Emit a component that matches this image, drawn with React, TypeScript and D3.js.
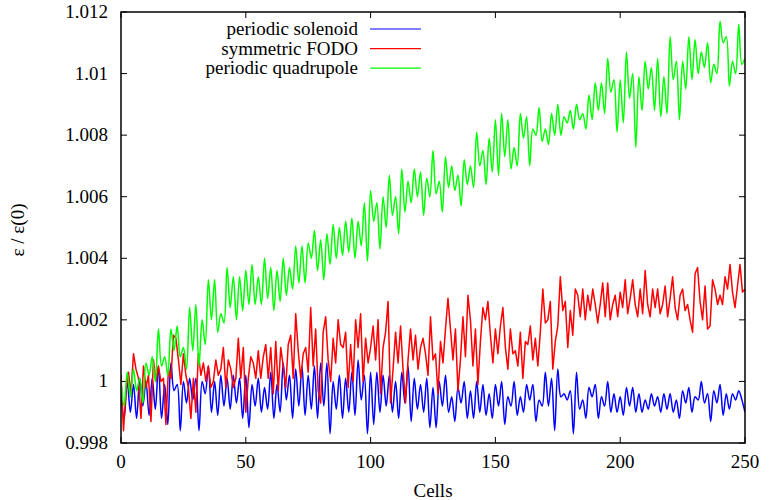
import React from 'react';
import * as d3 from 'd3';

const W = 769;
const H = 500;

const xTicks = [0, 50, 100, 150, 200, 250];
const xTickLabels = ['0', '50', '100', '150', '200', '250'];
const yTicks = [0.998, 1.0, 1.002, 1.004, 1.006, 1.008, 1.01, 1.012];
const yTickLabels = ['0.998', '1', '1.002', '1.004', '1.006', '1.008', '1.01', '1.012'];

const seriesNames = ['periodic solenoid', 'symmetric FODO', 'periodic quadrupole'];
const seriesColors = ['#0000ff', '#ff0000', '#00ff00'];

// periodic solenoid: samples every 1.25 cells (alternating maxima / minima)
const solenoidStep = 1.25;
const solenoid = [
  0.9996, 0.9988, 1.0000, 0.9990, 0.9999, 0.9988, 1.0001, 0.9992, 1.0000, 0.9989, 1.0001, 0.9991, 1.0005, 0.9988, 0.9999, 0.9986, 1.0006, 0.9997, 0.9999, 0.9984,
  1.0000, 0.9993, 1.0001, 0.9994, 1.0001, 0.9984, 1.0000, 0.9996, 1.0005, 0.9990, 1.0000, 0.9989, 1.0002, 0.9992, 1.0001, 0.9991, 1.0002, 0.9993, 1.0001, 0.9988,
  1.0002, 0.9985, 0.9999, 0.9992, 1.0001, 0.9990, 0.9998, 0.9991, 1.0003, 0.9988, 0.9999, 0.9990, 1.0006, 0.9994, 1.0002, 0.9988, 1.0004, 0.9992, 1.0005, 0.9989,
  1.0002, 0.9991, 1.0005, 0.9988, 1.0006, 0.9992, 1.0006, 0.9983, 1.0000, 0.9991, 1.0002, 0.9988, 1.0001, 0.9990, 1.0003, 0.9989, 1.0007, 0.9994, 1.0002, 0.9983,
  1.0003, 0.9986, 1.0003, 0.9990, 1.0002, 0.9992, 1.0002, 0.9990, 1.0000, 0.9988, 1.0003, 0.9993, 1.0005, 0.9987, 1.0001, 0.9991, 0.9999, 0.9990, 1.0001, 0.9985,
  0.9998, 0.9985, 1.0000, 0.9992, 1.0002, 0.9990, 0.9995, 0.9987, 0.9998, 0.9993, 1.0000, 0.9988, 0.9997, 0.9988, 1.0000, 0.9990, 0.9999, 0.9989, 0.9996, 0.9988,
  0.9999, 0.9992, 1.0000, 0.9986, 0.9995, 0.9992, 1.0000, 0.9989, 0.9995, 0.9990, 0.9999, 0.9994, 0.9999, 0.9987, 0.9994, 0.9992, 1.0003, 0.9992, 1.0001, 0.9984,
  1.0004, 0.9995, 0.9996, 0.9994, 0.9997, 0.9983, 1.0003, 0.9991, 0.9994, 0.9988, 0.9998, 0.9995, 0.9999, 0.9988, 0.9995, 0.9992, 1.0000, 0.9990, 0.9996, 0.9990,
  0.9995, 0.9989, 0.9998, 0.9992, 0.9998, 0.9990, 0.9996, 0.9990, 0.9994, 0.9991, 0.9996, 0.9992, 0.9995, 0.9990, 0.9996, 0.9991, 0.9996, 0.9990, 0.9994, 0.9988,
  0.9997, 0.9993, 0.9998, 0.9990, 0.9995, 0.9994, 1.0000, 0.9993, 0.9996, 0.9987, 0.9997, 0.9993, 0.9999, 0.9989, 0.9996, 0.9991, 0.9996, 0.9994, 0.9997, 0.9994,
  0.9990,
];

// symmetric FODO: one sample per cell
const fodoStep = 1;
const fodo = [
  1.0002, 0.9984, 0.9997, 1.0003, 0.9996, 1.0009, 1.0004, 1.0001, 0.9988, 1.0005,
  0.9998, 1.0002, 0.9987, 1.0007, 1.0000, 1.0005, 1.0000, 1.0001, 0.9986, 1.0004,
  1.0001, 1.0015, 1.0014, 1.0007, 0.9999, 1.0009, 1.0002, 0.9998, 0.9988, 1.0001,
  0.9990, 1.0009, 1.0002, 1.0006, 1.0000, 1.0005, 0.9998, 1.0000, 1.0007, 1.0002,
  1.0004, 1.0011, 0.9998, 1.0007, 1.0004, 0.9998, 1.0001, 1.0014, 1.0001, 1.0011,
  0.9990, 1.0001, 1.0008, 1.0006, 1.0001, 1.0010, 1.0001, 1.0008, 1.0012, 1.0001,
  1.0011, 0.9996, 1.0013, 0.9997, 1.0011, 1.0005, 0.9998, 1.0012, 1.0015, 1.0001,
  1.0022, 1.0010, 1.0001, 1.0009, 1.0011, 1.0003, 1.0024, 1.0005, 1.0017, 0.9997,
  0.9993, 1.0016, 1.0021, 1.0007, 1.0000, 1.0014, 1.0006, 1.0020, 1.0012, 1.0011,
  1.0016, 0.9998, 1.0012, 1.0000, 1.0020, 1.0011, 1.0022, 1.0000, 1.0014, 1.0006,
  1.0011, 1.0018, 1.0007, 1.0020, 0.9996, 1.0011, 1.0016, 1.0026, 0.9993, 1.0004,
  1.0016, 1.0006, 1.0018, 1.0004, 0.9993, 1.0007, 1.0017, 1.0007, 1.0015, 1.0004,
  1.0011, 1.0014, 1.0009, 1.0002, 1.0021, 1.0007, 1.0009, 0.9996, 1.0013, 1.0006,
  1.0017, 1.0027, 1.0017, 1.0007, 1.0017, 0.9997, 1.0007, 1.0021, 1.0008, 1.0028,
  1.0020, 1.0005, 1.0017, 0.9999, 1.0013, 1.0024, 1.0020, 1.0026, 1.0015, 1.0006,
  1.0017, 1.0009, 1.0018, 1.0024, 1.0011, 1.0004, 1.0017, 1.0009, 1.0010, 1.0005,
  1.0016, 1.0001, 1.0013, 1.0012, 1.0018, 1.0007, 1.0014, 1.0005, 1.0016, 1.0030,
  1.0019, 1.0020, 1.0026, 1.0004, 1.0013, 1.0018, 1.0034, 1.0023, 1.0026, 1.0011,
  1.0023, 1.0015, 1.0030, 1.0028, 1.0021, 1.0030, 1.0020, 1.0028, 1.0023, 1.0030,
  1.0025, 1.0019, 1.0025, 1.0032, 1.0021, 1.0032, 1.0020, 1.0025, 1.0028, 1.0021,
  1.0029, 1.0024, 1.0033, 1.0022, 1.0027, 1.0033, 1.0025, 1.0021, 1.0030, 1.0022,
  1.0036, 1.0025, 1.0021, 1.0030, 1.0024, 1.0030, 1.0022, 1.0025, 1.0031, 1.0021,
  1.0027, 1.0034, 1.0024, 1.0020, 1.0028, 1.0030, 1.0023, 1.0025, 1.0020, 1.0016,
  1.0035, 1.0037, 1.0026, 1.0020, 1.0031, 1.0017, 1.0018, 1.0033, 1.0030, 1.0025,
  1.0028, 1.0025, 1.0034, 1.0030, 1.0038, 1.0029, 1.0024, 1.0031, 1.0038, 1.0029,
  1.0030,
];

// periodic quadrupole: samples every 1.25 cells (alternating maxima / minima)
const quadStep = 1.25;
const quadrupole = [
  1.0000, 0.9992, 1.0003, 0.9995, 1.0004, 0.9997, 1.0001, 0.9993, 1.0006, 1.0002, 1.0008, 1.0000, 1.0017, 1.0005, 1.0008, 1.0002, 1.0017, 1.0010, 1.0018, 1.0008,
  1.0011, 1.0004, 1.0024, 1.0010, 1.0025, 1.0005, 1.0020, 1.0012, 1.0033, 1.0020, 1.0033, 1.0016, 1.0022, 1.0019, 1.0037, 1.0024, 1.0034, 1.0020, 1.0034, 1.0023,
  1.0036, 1.0025, 1.0038, 1.0025, 1.0034, 1.0025, 1.0040, 1.0027, 1.0037, 1.0023, 1.0036, 1.0026, 1.0040, 1.0028, 1.0037, 1.0030, 1.0044, 1.0032, 1.0044, 1.0032,
  1.0045, 1.0040, 1.0049, 1.0036, 1.0046, 1.0033, 1.0048, 1.0038, 1.0051, 1.0040, 1.0050, 1.0041, 1.0052, 1.0042, 1.0053, 1.0040, 1.0052, 1.0044, 1.0058, 1.0039,
  1.0062, 1.0052, 1.0058, 1.0043, 1.0060, 1.0050, 1.0067, 1.0054, 1.0060, 1.0048, 1.0069, 1.0055, 1.0065, 1.0058, 1.0069, 1.0060, 1.0068, 1.0054, 1.0066, 1.0060,
  1.0075, 1.0061, 1.0065, 1.0055, 1.0073, 1.0063, 1.0070, 1.0062, 1.0067, 1.0057, 1.0072, 1.0064, 1.0070, 1.0063, 1.0081, 1.0070, 1.0075, 1.0064, 1.0079, 1.0068,
  1.0085, 1.0067, 1.0087, 1.0073, 1.0085, 1.0069, 1.0076, 1.0070, 1.0087, 1.0079, 1.0086, 1.0070, 1.0082, 1.0080, 1.0089, 1.0078, 1.0082, 1.0077, 1.0087, 1.0080,
  1.0090, 1.0080, 1.0086, 1.0084, 1.0088, 1.0082, 1.0090, 1.0085, 1.0087, 1.0082, 1.0093, 1.0085, 1.0097, 1.0088, 1.0097, 1.0087, 1.0105, 1.0094, 1.0098, 1.0081,
  1.0098, 1.0084, 1.0107, 1.0092, 1.0100, 1.0076, 1.0099, 1.0088, 1.0104, 1.0095, 1.0102, 1.0088, 1.0105, 1.0086, 1.0099, 1.0087, 1.0112, 1.0098, 1.0104, 1.0085,
  1.0104, 1.0095, 1.0112, 1.0098, 1.0111, 1.0100, 1.0107, 1.0102, 1.0110, 1.0097, 1.0103, 1.0100, 1.0117, 1.0110, 1.0112, 1.0096, 1.0104, 1.0100, 1.0116, 1.0103,
  1.0105,
];

const margin = { left: 121, right: 745, top: 12, bottom: 443 };
const FONT = 'Liberation Serif';
const FS = 19;

export default function App() {
  const x = d3.scaleLinear().domain([0, 250]).range([margin.left, margin.right]);
  const y = d3.scaleLinear().domain([0.998, 1.012]).range([margin.bottom, margin.top]);

  const makePath = (data: number[], step: number, smooth: boolean) => {
    const gen = d3
      .line<number>()
      .x((_, i) => x(i * step))
      .y((v) => y(v))
      .curve(smooth ? d3.curveCatmullRom.alpha(0.5) : d3.curveLinear);
    return gen(data) || '';
  };

  const series = [
    { data: solenoid, step: solenoidStep, smooth: true },
    { data: fodo, step: fodoStep, smooth: false },
    { data: quadrupole, step: quadStep, smooth: true },
  ];

  const tickLen = 6;
  const legendTextX = 358;
  const legendLineX0 = 370;
  const legendLineX1 = 421;
  const legendY0 = 29;
  const legendDy = 19.6;

  return (
    <svg
      width={W}
      height={H}
      viewBox={`0 0 ${W} ${H}`}
      style={{ position: 'absolute', left: 0, top: 0, background: '#fff' }}
    >
      <defs>
        <clipPath id="plotClip">
          <rect
            x={margin.left}
            y={margin.top}
            width={margin.right - margin.left}
            height={margin.bottom - margin.top}
          />
        </clipPath>
      </defs>
      <rect x={0} y={0} width={W} height={H} fill="#fff" />

      {/* ticks (mirrored) */}
      <g stroke="#000" strokeWidth={1}>
        {xTicks.map((t) => (
          <g key={'xt' + t}>
            <line x1={x(t)} x2={x(t)} y1={margin.bottom} y2={margin.bottom - tickLen} />
            <line x1={x(t)} x2={x(t)} y1={margin.top} y2={margin.top + tickLen} />
          </g>
        ))}
        {yTicks.map((t) => (
          <g key={'yt' + t}>
            <line x1={margin.left} x2={margin.left + tickLen} y1={y(t)} y2={y(t)} />
            <line x1={margin.right} x2={margin.right - tickLen} y1={y(t)} y2={y(t)} />
          </g>
        ))}
      </g>

      {/* data */}
      <g clipPath="url(#plotClip)" fill="none" strokeLinejoin="round">
        {series.map((s, i) => (
          <path
            key={seriesNames[i]}
            d={makePath(s.data, s.step, s.smooth)}
            stroke={seriesColors[i]}
            strokeWidth={1.5}
          />
        ))}
      </g>

      {/* border */}
      <rect
        x={margin.left}
        y={margin.top}
        width={margin.right - margin.left}
        height={margin.bottom - margin.top}
        fill="none"
        stroke="#000"
        strokeWidth={1.5}
      />

      {/* tick labels and axis titles */}
      <g fontFamily={FONT} fontSize={FS} fill="#000">
        {xTicks.map((t, i) => (
          <text key={'xl' + t} x={x(t)} y={468} textAnchor="middle">
            {xTickLabels[i]}
          </text>
        ))}
        {yTicks.map((t, i) => (
          <text key={'yl' + t} x={108} y={y(t) + 6} textAnchor="end">
            {yTickLabels[i]}
          </text>
        ))}
        <text x={433} y={497} textAnchor="middle">
          Cells
        </text>
        <text transform={`translate(24, 230) rotate(-90)`} textAnchor="middle">
          ε / ε(0)
        </text>
      </g>

      {/* legend */}
      <g fontFamily={FONT} fontSize={FS} fill="#000">
        {seriesNames.map((n, i) => (
          <g key={'lg' + n}>
            <text x={legendTextX} y={legendY0 + i * legendDy + 6} textAnchor="end">
              {n}
            </text>
            <line
              x1={legendLineX0}
              x2={legendLineX1}
              y1={legendY0 + i * legendDy}
              y2={legendY0 + i * legendDy}
              stroke={seriesColors[i]}
              strokeWidth={1.2}
            />
          </g>
        ))}
      </g>
    </svg>
  );
}
